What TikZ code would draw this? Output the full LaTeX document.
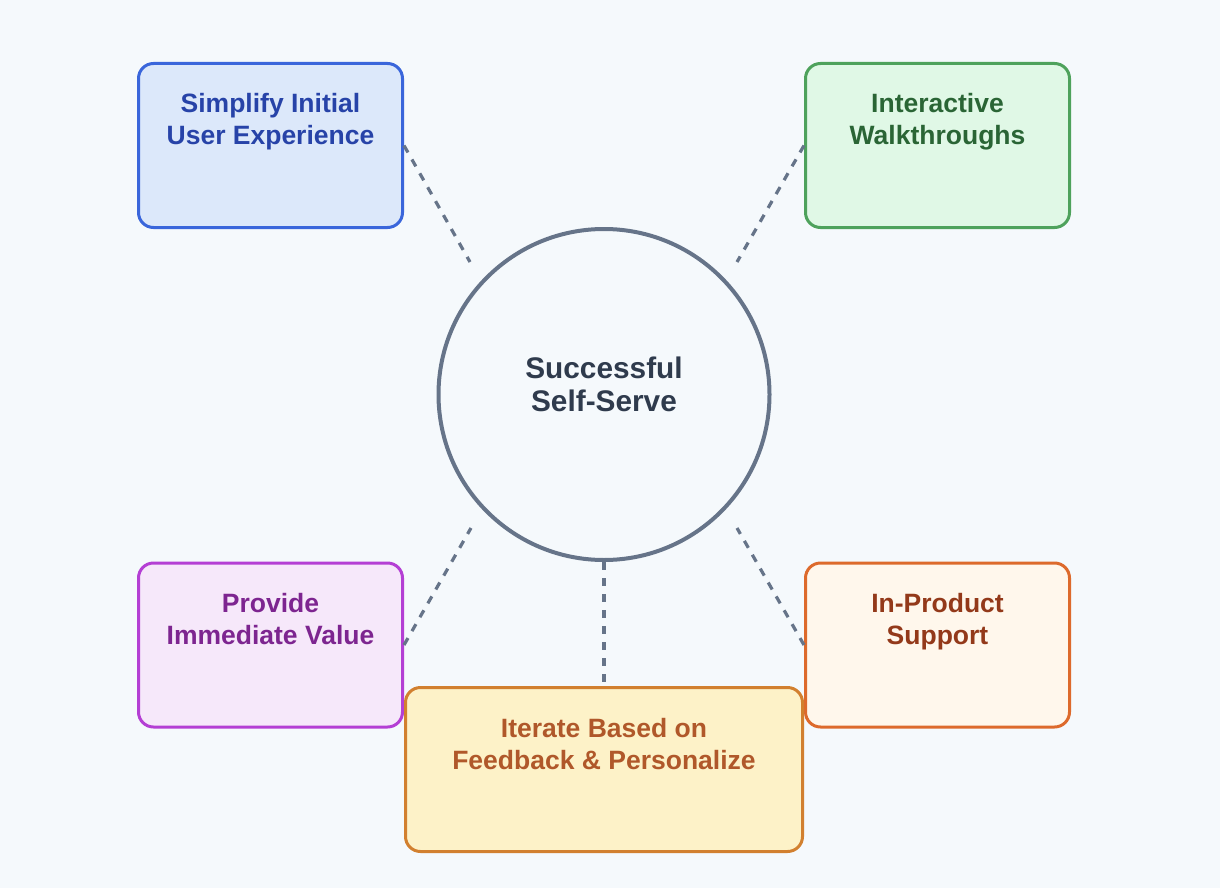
\documentclass[tikz,border=0pt]{standalone}
\usepackage{fontspec}
\setmainfont{Liberation Sans}
\definecolor{bg}{HTML}{F5F9FC}
\definecolor{slate}{HTML}{667489}
\definecolor{slatetext}{HTML}{2F3B4D}
\definecolor{blueB}{HTML}{3A66DB}
\definecolor{blueF}{HTML}{DCE8FA}
\definecolor{blueT}{HTML}{2743A8}
\definecolor{greenB}{HTML}{4EA25C}
\definecolor{greenF}{HTML}{E0F8E6}
\definecolor{greenT}{HTML}{2A6535}
\definecolor{purpB}{HTML}{B43FD4}
\definecolor{purpF}{HTML}{F6E8FA}
\definecolor{purpT}{HTML}{7D2590}
\definecolor{oranB}{HTML}{DD6A2C}
\definecolor{oranF}{HTML}{FFF7EC}
\definecolor{oranT}{HTML}{93391A}
\definecolor{yelB}{HTML}{D2802F}
\definecolor{yelF}{HTML}{FDF2C8}
\definecolor{yelT}{HTML}{B0582A}
\tikzset{
  boxnode/.style={draw, line width=3pt, rounded corners=15pt, minimum width=264pt, minimum height=164pt, inner sep=0pt},
  labelnode/.style={align=center, inner sep=0pt, font=\fontsize{26.5}{32}\selectfont\bfseries},
  hublabel/.style={align=center, inner sep=0pt, font=\fontsize{29.8}{33}\selectfont\bfseries},
  conn/.style={draw=slate, line width=3.2pt, dash pattern=on 8pt off 8pt},
}
\newcommand{\ls}{\rule[-9.6pt]{0pt}{32pt}}
\newcommand{\lh}{\rule[-9.9pt]{0pt}{33pt}}
\begin{document}
\begin{tikzpicture}[x=1pt,y=-1pt]
\fill[bg] (0,0) rectangle (1220,888);
\useasboundingbox (0,0) rectangle (1220,888);
% free ends
\coordinate (e1) at (470,262);
\coordinate (e2) at (737,262);
\coordinate (e3) at (471,528);
\coordinate (e4) at (737,528);
% center
\node[circle, draw=slate, line width=4pt, fill=bg, minimum size=331pt, inner sep=0pt] (hub) at (604,394.5) {};
% boxes
\node[boxnode, draw=blueB, fill=blueF] (b1) at (270.5,145.5) {};
\node[boxnode, draw=greenB, fill=greenF] (b2) at (937.5,145.5) {};
\node[boxnode, draw=purpB, fill=purpF] (b3) at (270.5,645) {};
\node[boxnode, draw=oranB, fill=oranF] (b4) at (937.5,645) {};
% connectors
\draw[conn] (b1.east) -- (e1);
\draw[conn] (b2.west) -- (e2);
\draw[conn] (b3.east) -- (e3);
\draw[conn] (b4.west) -- (e4);
\node[boxnode, draw=yelB, fill=yelF, minimum width=397pt] (b5) at (604,769.5) {};
\draw[conn] (hub.south) -- (b5.north);
% labels
\node[hublabel, text=slatetext] (hubt) at (604,388.5) {\lh Successful\\\lh Self-Serve};
\node[labelnode, text=blueT] (t1) at (270.5,122.5) {\ls Simplify Initial\\\ls User Experience};
\node[labelnode, text=greenT] (t2) at (937.5,122.5) {\ls Interactive\\\ls Walkthroughs};
\node[labelnode, text=purpT] (t3) at (270.5,622.5) {\ls Provide\\\ls Immediate Value};
\node[labelnode, text=oranT] (t4) at (937.5,622.5) {\ls In-Product\\\ls Support};
\node[labelnode, text=yelT] (t5) at (604,747.5) {\ls Iterate Based on\\\ls Feedback \& Personalize};
\end{tikzpicture}
\end{document}
